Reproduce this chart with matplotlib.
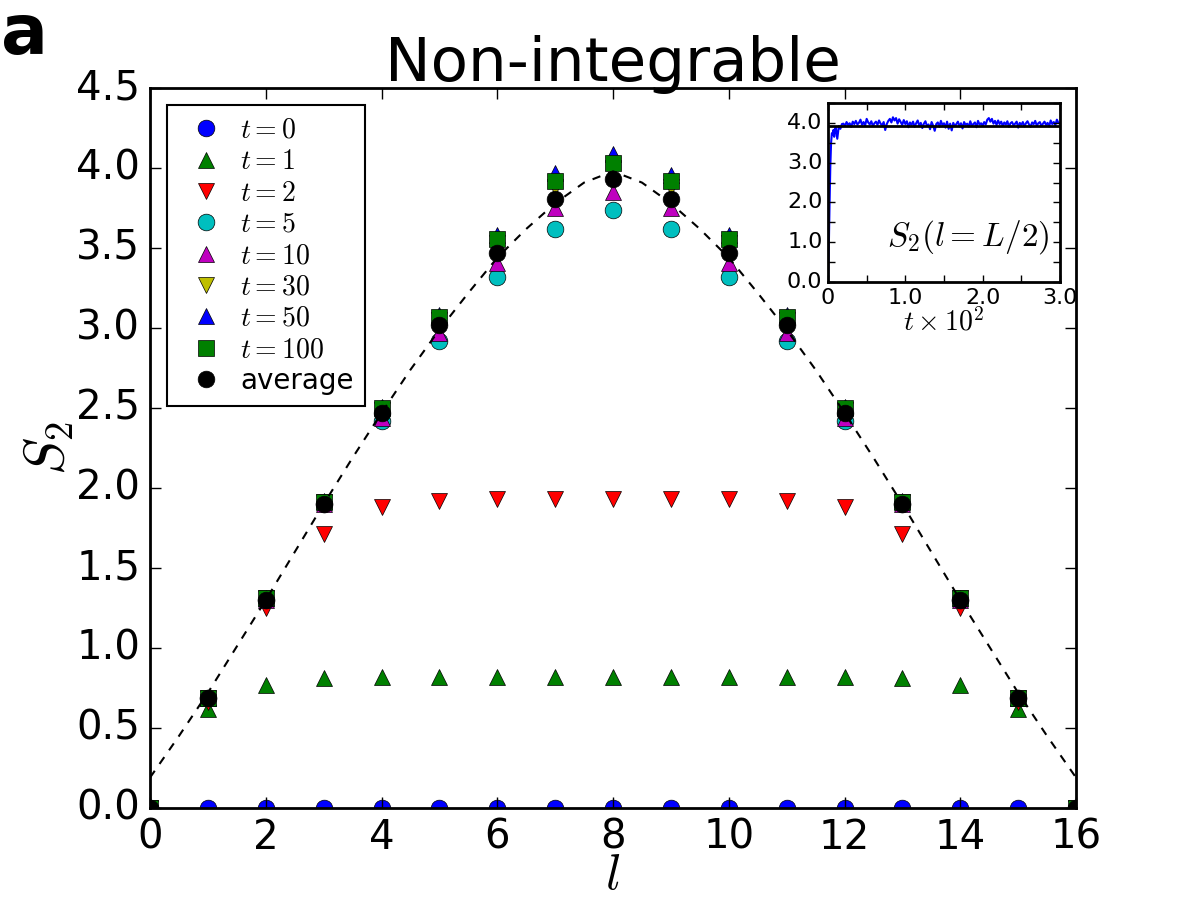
import numpy as np
import matplotlib
matplotlib.use("Agg")
import matplotlib.pyplot as plt

plt.style.use('classic')
plt.rcParams['mathtext.fontset'] = 'cm'
plt.rcParams['font.family'] = ['DejaVu Sans']

# subsystem size
l = np.arange(0, 17)

# S2 at selected times
s_t0 = [0.0] * 17
s_t1 = [0, 0.62, 0.77, 0.81, 0.82, 0.82, 0.82, 0.82, 0.82, 0.82, 0.82, 0.82, 0.82, 0.81, 0.77, 0.62, 0]
s_t2 = [0, 0.66, 1.25, 1.71, 1.88, 1.92, 1.93, 1.93, 1.93, 1.93, 1.93, 1.92, 1.88, 1.71, 1.25, 0.66, 0]
s_t5 = [0, 0.69, 1.30, 1.90, 2.42, 2.92, 3.32, 3.62, 3.74, 3.62, 3.32, 2.92, 2.42, 1.90, 1.30, 0.69, 0]
s_t10 = [0, 0.69, 1.30, 1.90, 2.44, 2.97, 3.41, 3.75, 3.85, 3.75, 3.41, 2.97, 2.44, 1.90, 1.30, 0.69, 0]
s_t30 = [0, 0.69, 1.31, 1.91, 2.49, 3.05, 3.53, 3.88, 4.00, 3.88, 3.53, 3.05, 2.49, 1.91, 1.31, 0.69, 0]
s_t50 = [0, 0.69, 1.31, 1.92, 2.51, 3.08, 3.58, 3.97, 4.09, 3.96, 3.58, 3.08, 2.51, 1.92, 1.31, 0.69, 0]
s_t100 = [0, 0.69, 1.31, 1.91, 2.50, 3.07, 3.56, 3.92, 4.03, 3.92, 3.56, 3.07, 2.50, 1.91, 1.31, 0.69, 0]
s_avg = [0, 0.69, 1.30, 1.90, 2.47, 3.02, 3.47, 3.81, 3.93, 3.81, 3.47, 3.02, 2.47, 1.90, 1.30, 0.69, 0]

# theory curve (dashed), sampled at half-integers
l_th = np.arange(0, 16.5, 0.5)
s_th = [0.19, 0.45, 0.72, 1.01, 1.30, 1.60, 1.90, 2.19, 2.47, 2.74, 2.99, 3.22, 3.44, 3.62, 3.78, 3.91,
        3.98, 3.91, 3.78, 3.62, 3.44, 3.22, 2.99, 2.74, 2.47, 2.19, 1.90, 1.60, 1.30, 1.01, 0.72, 0.45, 0.19]

# inset: half-chain entropy vs time (t in units of 100)
t_early = [0, 0.005, 0.01, 0.015, 0.02, 0.03, 0.04, 0.05, 0.06, 0.07, 0.08, 0.09, 0.10, 0.12, 0.14, 0.16, 0.18]
s_early = [0, 0.40, 0.81, 1.40, 1.93, 2.90, 3.50, 3.74, 3.70, 3.82, 3.65, 3.85, 3.88, 3.60, 3.92, 3.85, 3.97]
t_late = np.round(np.arange(0.20, 3.001, 0.02), 3)
s_late = [3.98, 3.92, 4.02, 3.95, 3.99, 3.90, 4.03, 3.97, 4.05, 3.96,
          4.00, 4.08, 3.95, 4.02, 3.93, 4.10, 4.01, 3.96, 4.04, 3.92,
          3.99, 4.03, 3.95, 4.06, 3.98, 3.94, 4.02, 3.82, 3.97, 4.05,
          4.10, 4.01, 4.14, 4.06, 4.12, 3.98, 4.09, 4.02, 3.95, 4.07,
          3.97, 4.04, 3.89, 4.01, 3.95, 4.03, 3.90, 3.99, 4.06, 3.93,
          4.00, 3.87, 3.98, 4.04, 3.92, 3.96, 3.84, 4.02, 3.93, 3.80,
          3.97, 4.01, 3.90, 4.05, 3.94, 3.99, 3.88, 4.03, 3.85, 3.98,
          3.81, 4.00, 3.92, 3.97, 4.03, 3.91, 3.99, 3.86, 4.02, 3.95,
          3.98, 3.90, 4.04, 3.93, 3.97, 4.01, 3.89, 4.05, 3.96, 3.99,
          3.93, 4.02, 3.96, 4.08, 4.12, 4.03, 4.10, 3.98, 4.05, 3.95,
          4.06, 3.97, 4.03, 3.92, 4.01, 3.96, 4.04, 3.90, 3.99, 4.02,
          3.94, 3.98, 4.03, 3.88, 4.00, 3.95, 4.02, 3.91, 3.99, 4.04,
          3.96, 3.90, 4.01, 3.97, 4.05, 3.93, 3.99, 4.02, 3.92, 3.98,
          4.03, 3.95, 4.00, 3.91, 4.06, 3.97, 4.02, 3.94, 4.08, 4.00,
          3.98]
t_inset = np.concatenate([t_early, t_late])
s_inset = np.concatenate([s_early, s_late])
s_inset_avg = 3.93

series = [
    (s_t0, 'o', '#0000ff', r'$t=0$'),
    (s_t1, '^', '#008000', r'$t=1$'),
    (s_t2, 'v', '#ff0000', r'$t=2$'),
    (s_t5, 'o', '#00bfbf', r'$t=5$'),
    (s_t10, '^', '#bf00bf', r'$t=10$'),
    (s_t30, 'v', '#bfbf00', r'$t=30$'),
    (s_t50, '^', '#0000ff', r'$t=50$'),
    (s_t100, 's', '#008000', r'$t=100$'),
    (s_avg, 'o', '#000000', 'average'),
]

fig = plt.figure(figsize=(12, 9), dpi=100, facecolor='white')
ax = fig.add_axes([0.125, 0.1022, 0.7717, 0.7998])

for vals, mk, col, lab in series:
    ax.plot(l, vals, linestyle='none', marker=mk, color=col, markeredgecolor='black',
            markersize=12, label=lab)
ax.plot(l_th, s_th, 'k--', lw=1.5, dashes=(6, 6))

ax.set_xlim(0, 16)
ax.set_ylim(0, 4.5)
ax.set_xticks(np.arange(0, 17, 2))
ax.set_yticks(np.arange(0, 4.51, 0.5))
ax.set_yticklabels(['%.1f' % v for v in np.arange(0, 4.51, 0.5)])
ax.tick_params(labelsize=29, length=8, width=1, pad=7)
for sp in ax.spines.values():
    sp.set_linewidth(2)
ax.set_xlabel(r'$l$', fontsize=36, labelpad=-5)
ax.set_ylabel(r'$S_2$', fontsize=40, labelpad=0)
ax.set_title('Non-integrable', fontsize=44, y=1.0)

leg = ax.legend(loc='upper left', numpoints=1, fontsize=20, frameon=True, fancybox=False,
                borderaxespad=0.6, handletextpad=0.25, labelspacing=0.12, borderpad=0.4)
leg.get_frame().set_linewidth(1.5)

fig.text(0.001, 0.94, 'a', fontsize=50, fontweight='bold', ha='left', va='baseline')

# inset
axin = fig.add_axes([0.69, 0.6867, 0.1933, 0.1989])
axin.plot(t_inset, s_inset, color='#0000ff', lw=1.5)
axin.axhline(s_inset_avg, color='black', lw=2)
axin.set_xlim(0, 3.0)
axin.set_ylim(0, 4.5)
axin.set_xticks(np.arange(0, 3.01, 0.5))
axin.set_xticklabels(['0', '', '1.0', '', '2.0', '', '3.0'])
axin.set_yticks(np.arange(0, 4.51, 0.5))
axin.set_yticklabels(['0.0', '', '1.0', '', '2.0', '', '3.0', '', '4.0', ''])
axin.tick_params(labelsize=16, length=5, width=1, pad=4)
for sp in axin.spines.values():
    sp.set_linewidth(2)
axin.set_xlabel(r'$t\times10^2$', fontsize=20, labelpad=0)
axin.text(0.955, 0.25, r'$S_2(l=L/2)$', transform=axin.transAxes, fontsize=24,
          ha='right', va='center')

fig.savefig('out.png', dpi=100, facecolor='white')
